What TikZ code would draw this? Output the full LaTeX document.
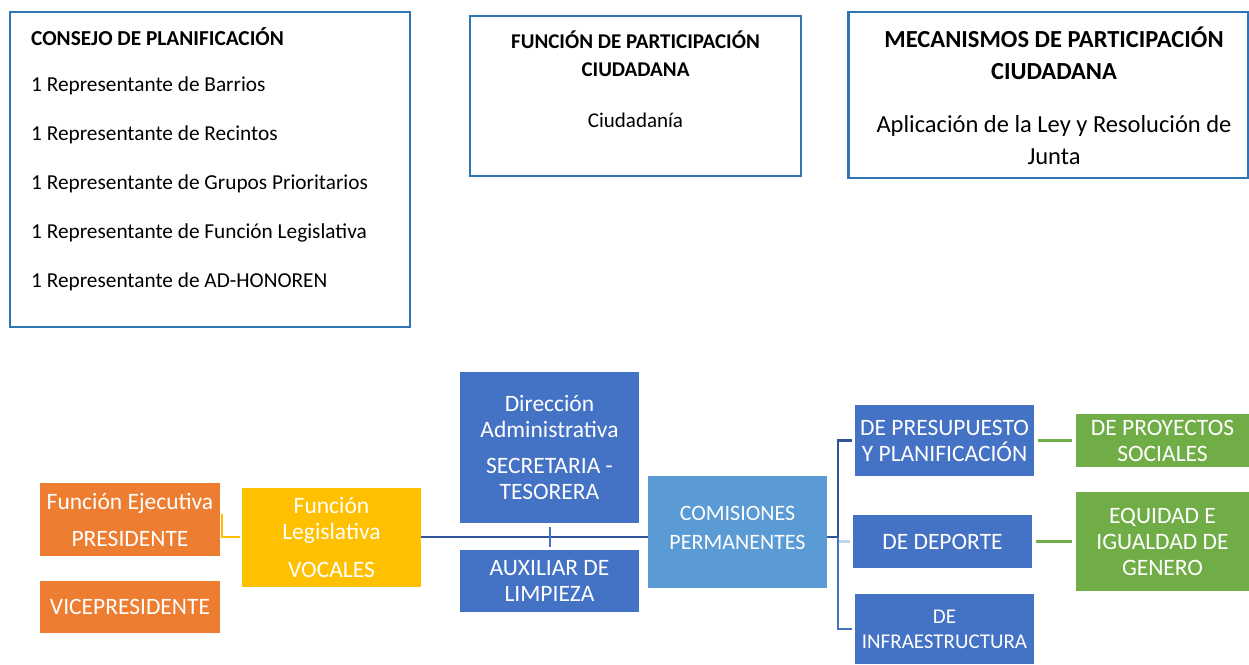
\documentclass[tikz,border=0pt]{standalone}
\usepackage{fontspec}
\setmainfont{Carlito}
\definecolor{frameblue}{HTML}{2E75B6}
\definecolor{orgorange}{HTML}{ED7D31}
\definecolor{orgyellow}{HTML}{FFC000}
\definecolor{orgblue}{HTML}{4472C4}
\definecolor{orglight}{HTML}{5B9BD5}
\definecolor{orggreen}{HTML}{70AD47}
\definecolor{linedark}{HTML}{2F5597}
\definecolor{linepale}{HTML}{BDD7EE}
\begin{document}
\begin{tikzpicture}[x=1pt,y=-1pt,
  frame/.style={draw=frameblue,line width=2.2pt,inner sep=0pt},
  unit/.style={fill=#1,text=white,align=center,inner sep=0pt,font=\fontsize{23.5}{26}\selectfont},
  link/.style={line width=2.5pt}]
\useasboundingbox (0,0) rectangle (1249,664);

% upper boxes
\node[frame,minimum width=400pt,minimum height=315pt] (consejo) at (210,169.5) {};
\node[anchor=west,inner sep=0pt,font=\bfseries\fontsize{21.3}{26}\selectfont] (consejotit) at (31,37) {CONSEJO DE PLANIFICACIÓN};
\foreach \grp [count=\i] in {Barrios,Recintos,Grupos Prioritarios,Función Legislativa,AD-HONOREN}
  \node[anchor=west,inner sep=0pt,font=\fontsize{21.3}{26}\selectfont] (rep\i) at (31,37+49*\i) {1 Representante de \grp};

\node[frame,minimum width=331pt,minimum height=160pt] (funcion) at (635.5,96) {};
\node[align=center,font=\fontsize{21}{28}\selectfont] (funciontxt) at (635.5,79.5)
  {\textbf{FUNCIÓN DE PARTICIPACIÓN}\\\textbf{CIUDADANA}\\[23pt]Ciudadanía};

\node[frame,minimum width=400pt,minimum height=166pt] (mecan) at (1048.5,95) {};
\node[align=center,font=\fontsize{24.5}{32}\selectfont] (mecantxt) at (1054,96)
  {\textbf{MECANISMOS DE PARTICIPACIÓN}\\\textbf{CIUDADANA}\\[21pt]Aplicación de la Ley y Resolución de\\Junta};

% lower chart
\node[unit=orgorange,minimum width=180pt,minimum height=73pt] (ejec) at (130,519.5) {Función Ejecutiva\\[11pt]PRESIDENTE};
\node[unit=orgorange,minimum width=180pt,minimum height=52pt] (vice) at (130,607) {VICEPRESIDENTE};
\node[unit=orgyellow,minimum width=179pt,minimum height=99pt] (legis) at (331.5,537) {Función\\Legislativa\\[12pt]VOCALES};
\node[unit=orgblue,minimum width=179pt,minimum height=151pt] (diradm) at (549.5,447.5) {Dirección\\Administrativa\\[10pt]SECRETARIA -\\TESORERA};
\node[unit=orgblue,minimum width=179pt,minimum height=62pt] (aux) at (549.5,581) {AUXILIAR DE\\LIMPIEZA};
\node[unit=orglight,minimum width=179pt,minimum height=112pt,font=\fontsize{22}{29}\selectfont] (comis) at (737.5,532) {COMISIONES\\PERMANENTES\\[-21pt]};
\node[unit=orgblue,minimum width=179pt,minimum height=71pt] (presup) at (944.5,440.5) {DE PRESUPUESTO\\Y PLANIFICACIÓN};
\node[unit=orgblue,minimum width=179pt,minimum height=53pt] (deporte) at (942.5,541.5) {DE DEPORTE};
\node[unit=orgblue,minimum width=179pt,minimum height=70pt,font=\fontsize{21}{25}\selectfont] (infra) at (944.5,629) {DE\\INFRAESTRUCTURA};
\node[unit=orggreen,minimum width=173pt,minimum height=53pt] (proyectos) at (1162.5,440.5) {DE PROYECTOS\\SOCIALES};
\node[unit=orggreen,minimum width=173pt,minimum height=99pt] (equidad) at (1162.5,541.5) {EQUIDAD E\\IGUALDAD DE\\GENERO};

\coordinate (fork) at (838,537);
\draw[link,orgyellow] ([xshift=2pt,yshift=6pt]ejec.east) |- ([xshift=-2pt]legis.west);
\draw[link,linedark] (legis.east) -- (comis.west |- legis);
\draw[link,orgblue,line width=2pt,shorten <=4pt,shorten >=3pt] (diradm.south) -- (aux.north);
\draw[link,linedark] (comis.east |- fork) -- (fork) |- ([xshift=-3pt]presup.west);
\draw[link,linepale] (fork) |- ([xshift=-3pt]deporte.west);
\draw[link,orgblue] (fork) |- ([xshift=-3pt]infra.west);
\draw[link,orggreen] ([xshift=4pt]presup.east) -- ([xshift=-4pt]proyectos.west);
\draw[link,orggreen] ([xshift=4pt]deporte.east) -- ([xshift=-4pt]equidad.west);
\end{tikzpicture}
\end{document}
